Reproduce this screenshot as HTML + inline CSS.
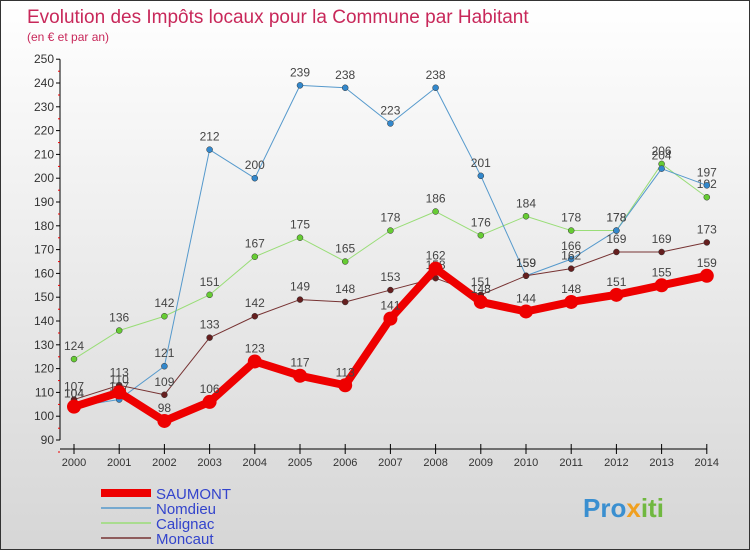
<!DOCTYPE html>
<html><head><meta charset="utf-8"><style>
body{margin:0}
#c{width:750px;height:550px;position:relative;box-sizing:border-box;border:1px solid #333;background:linear-gradient(#fff,#d6d6d6);font-family:"Liberation Sans",sans-serif;overflow:hidden}
</style></head><body>
<div id="c">
<svg width="748" height="548" id="s">
<text x="26" y="22" font-size="19" fill="#c8285a">Evolution des Impôts locaux pour la Commune par Habitant</text>
<text x="26" y="40" font-size="12" fill="#c8285a">(en € et par an)</text>
<g id="ax"></g><g id="ser"></g><g id="leg"></g>
<text x="582" y="516" font-size="26" font-weight="bold" fill="#3a8fd0">Pro<tspan fill="#f0a020">x</tspan><tspan fill="#70b840">iti</tspan></text>
</svg></div>
<script>
const years=[2000,2001,2002,2003,2004,2005,2006,2007,2008,2009,2010,2011,2012,2013,2014];
const yTicks=[90,100,110,120,130,140,150,160,170,180,190,200,210,220,230,240,250];
const saumont=[104,110,98,106,123,117,113,141,162,148,144,148,151,155,159];
const nomdieu=[104,107,121,212,200,239,238,223,238,201,159,166,178,204,197];
const calignac=[124,136,142,151,167,175,165,178,186,176,184,178,178,206,192];
const moncaut=[107,113,109,133,142,149,148,153,158,151,159,162,169,169,173];
const NS="http://www.w3.org/2000/svg";
const X=i=>73+i*45.2, Y=v=>439-(v-90)*23.8/10;
function mk(p,t,a){const e=document.createElementNS(NS,t);for(const k in a)e.setAttribute(k,a[k]);p.appendChild(e);return e;}
const ax=document.getElementById('ax');
const yl=mk(ax,'line',{x1:59,y1:Y(250),x2:59,y2:Y(90),stroke:'#000'});

const xl=mk(ax,'line',{x1:59,y1:448,x2:X(14),y2:448,stroke:'#000'});

yTicks.forEach(v=>{mk(ax,'line',{x1:55,y1:Y(v),x2:59,y2:Y(v),stroke:'#000'});
 mk(ax,'line',{x1:57,y1:Y(v)+12,x2:59,y2:Y(v)+12,stroke:'#e00'});
 const t=mk(ax,'text',{x:53,y:Y(v)+4,'font-size':12,'text-anchor':'end',fill:'#333'});t.textContent=v;
 });
years.forEach((y,i)=>{mk(ax,'line',{x1:X(i),y1:443,x2:X(i),y2:453,stroke:'#000'});
 const t=mk(ax,'text',{x:X(i),y:465,'font-size':11,'text-anchor':'middle',fill:'#333'});t.textContent=y;
 });
const ser=document.getElementById('ser');
function draw(d,col,w,r,dot,name){const g=mk(ser,'g',{});
 
 mk(g,'polyline',{points:d.map((v,i)=>X(i)+','+Y(v)).join(' '),fill:'none',stroke:col,'stroke-width':w,'stroke-linejoin':'round'});
 d.forEach((v,i)=>{const c=mk(g,'circle',{cx:X(i),cy:Y(v),r:r,fill:dot,stroke:w>3?'none':'#333','stroke-width':0.5});
 
 const t=mk(g,'text',{x:X(i),y:Y(v)-9,'font-size':12,'text-anchor':'middle',fill:'#444'});t.textContent=v;
 });}
draw(calignac,'#99dd77',1,3,'#66cc33','calignac');
draw(nomdieu,'#5599cc',1,3,'#3388cc','nomdieu');
draw(moncaut,'#773333',1,3,'#661f1f','moncaut');
draw(saumont,'#ee0000',8,7,'#ee0000','saumont');
const leg=document.getElementById('leg');
[['SAUMONT','#ee0000',8],['Nomdieu','#5599cc',1.5],['Calignac','#99dd77',1.5],['Moncaut','#773333',1.5]].forEach((e,i)=>{
 const y=492+i*15;const g=mk(leg,'g',{});
 
 mk(g,'line',{x1:100,y1:y,x2:150,y2:y,stroke:e[1],'stroke-width':e[2]});
 const t=mk(g,'text',{x:155,y:y+6,'font-size':15,fill:'#3344cc'});t.textContent=e[0];});
</script>
</body></html>
